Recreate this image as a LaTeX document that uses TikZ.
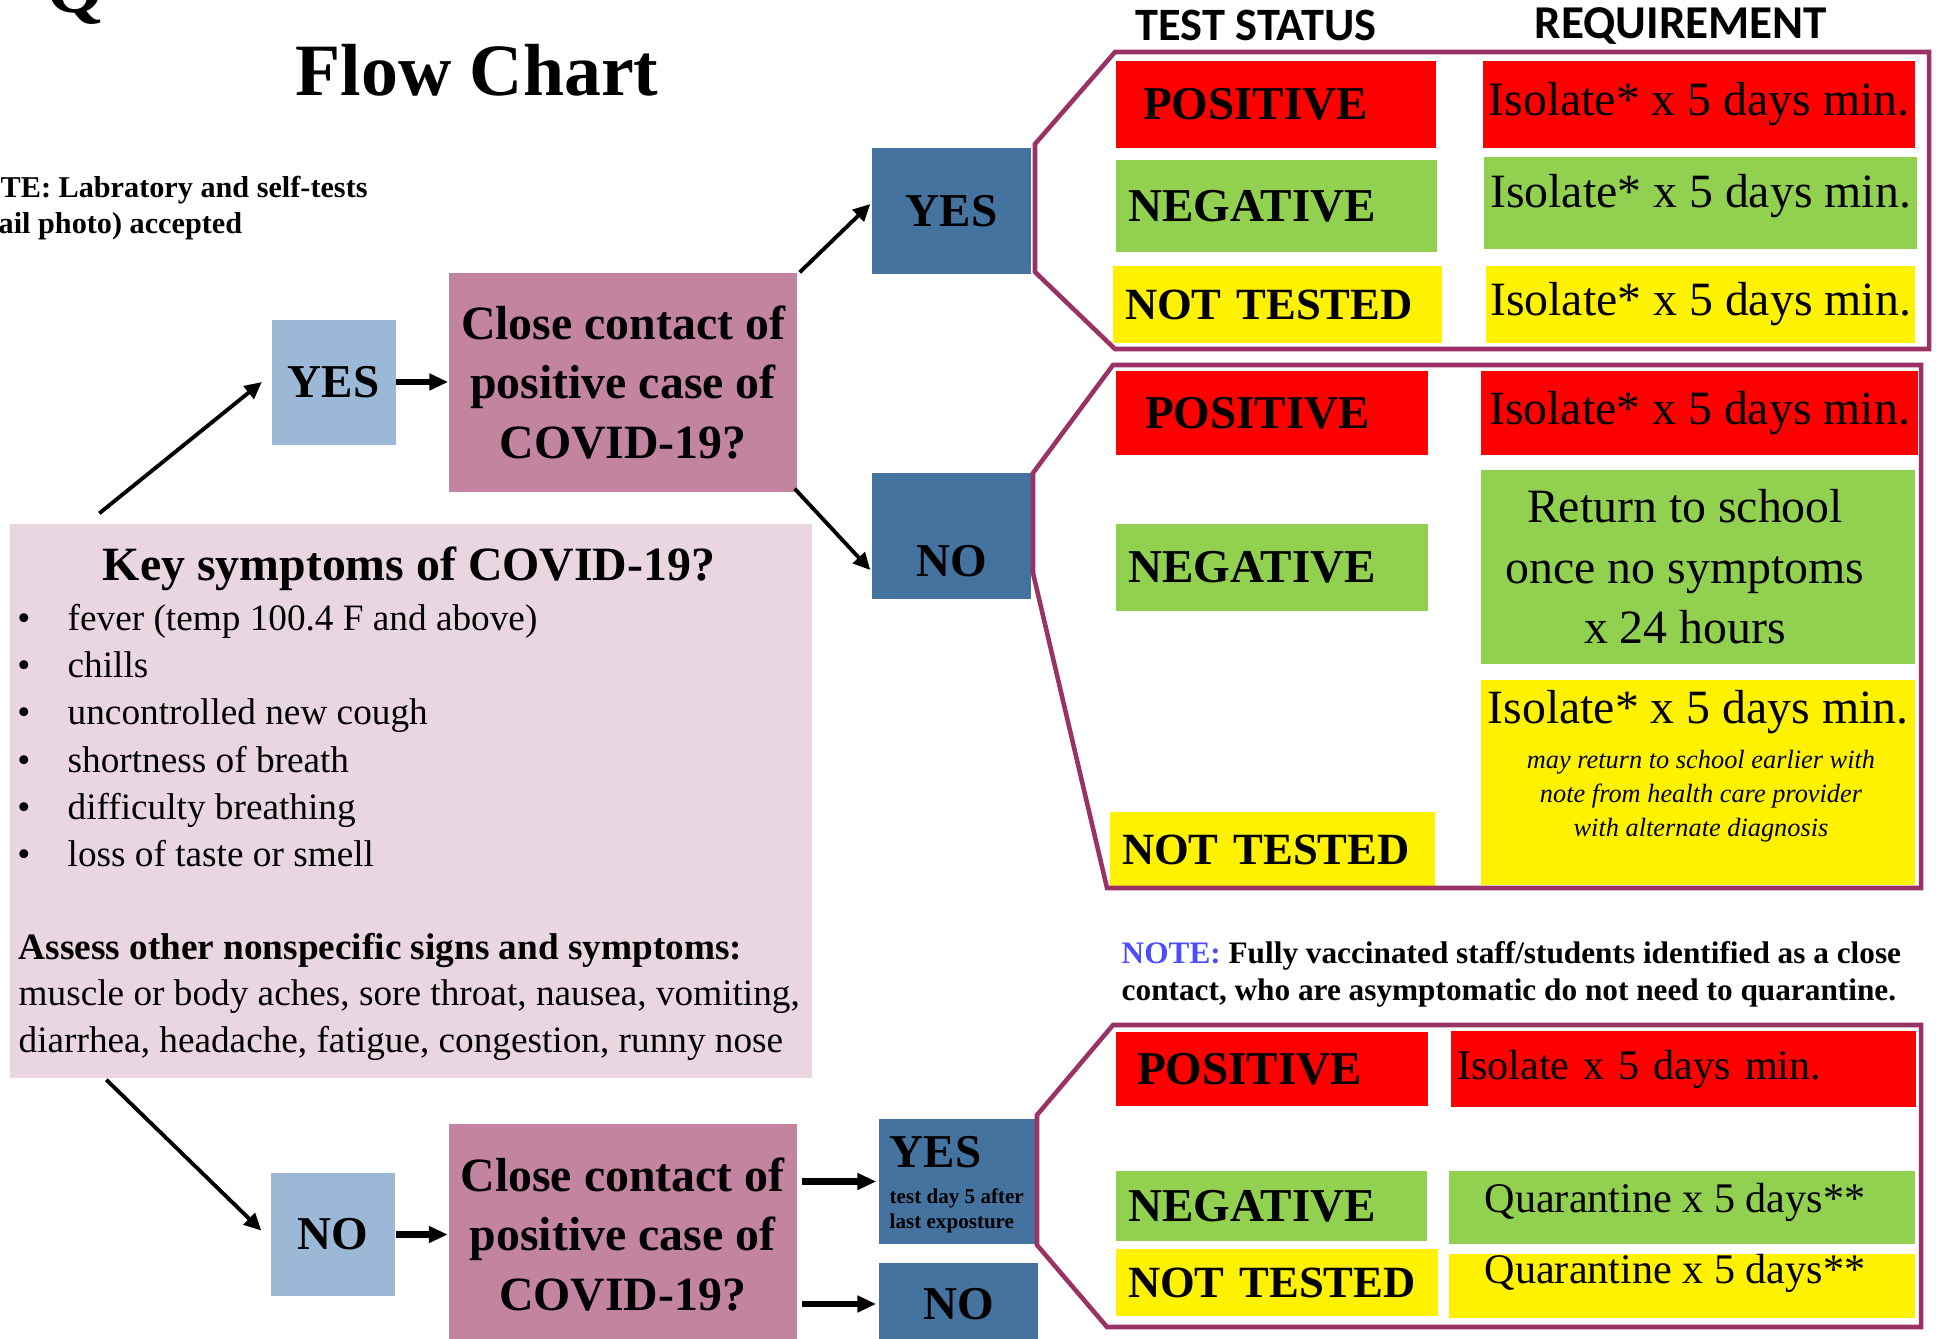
\documentclass[tikz,border=0pt]{standalone}
\usepackage{fontspec}
\setmainfont{Liberation Serif}
\newfontfamily\headfont{Carlito}
\usetikzlibrary{arrows.meta,positioning,calc}

\definecolor{paleblue}{RGB}{155,185,214}
\definecolor{deepblue}{RGB}{68,115,159}
\definecolor{mauve}{RGB}{195,132,160}
\definecolor{blush}{RGB}{233,214,225}
\definecolor{plum}{RGB}{153,51,102}
\definecolor{leaf}{RGB}{146,208,80}
\definecolor{noteblue}{RGB}{77,77,255}

\newcommand{\answerfont}{\fontsize{13.4}{16}\selectfont\bfseries}
\newcommand{\askfont}{\fontsize{13.6}{16.8}\selectfont\bfseries}
\newcommand{\needfont}{\fontsize{13.6}{17.2}\selectfont}
\newcommand{\smallneed}{\fontsize{12}{14}\selectfont}
\newcommand{\listfont}{\fontsize{10.6}{13}\selectfont}
\newcommand{\remarkfont}{\fontsize{8.9}{10}\selectfont\bfseries}
\newcommand{\untestedfont}{\fontsize{12.7}{15}\selectfont\bfseries}
\newcommand{\padright}[1]{\rule{#1}{0pt}}

\tikzset{
  every node/.style={inner sep=0pt},
  answer/.style={fill=paleblue, minimum width=12.4mm, minimum height=12.5mm, font=\answerfont},
  outcome/.style={fill=deepblue, minimum width=15.9mm, font=\answerfont},
  question/.style={fill=mauve, minimum width=34.8mm, align=center, font=\askfont},
  status/.style={fill=#1, align=left, inner xsep=1.2mm, font=\answerfont},
  need/.style={fill=#1, align=center, font=\needfont},
  plumframe/.style={draw=plum, line width=1.3pt},
  flow/.style={-{Triangle[length=1.7mm,width=1.6mm]}, line width=1.1pt},
  bigflow/.style={-{Triangle[length=1.9mm,width=1.6mm]}, line width=1.8pt},
}

\begin{document}
\begin{tikzpicture}[x=0.1mm, y=-0.1mm]
\useasboundingbox (0,0) rectangle (1936,1338);

% titles
\node[anchor=base west, font=\fontsize{21}{25}\selectfont\bfseries] (cutq) at (46,12) {Q};
\node[anchor=base, font=\fontsize{21}{25}\selectfont\bfseries] (title) at (477,95) {Flow Chart};
\node[anchor=base west, font=\fontsize{8.6}{10}\selectfont\bfseries] (labnote1) at (0,197) {TE: Labratory and self-tests};
\node[anchor=base west, font=\fontsize{8.6}{10}\selectfont\bfseries] (labnote2) at (-2,233) {ail photo) accepted};
\node[anchor=base, font=\headfont\fontsize{13.2}{15}\selectfont\bfseries] (hstatus) at (1256,41) {TEST STATUS};
\node[anchor=base, font=\headfont\fontsize{13.4}{15}\selectfont\bfseries] (hneed) at (1681,39) {REQUIREMENT};

% symptoms
\node[fill=blush, minimum width=80.2mm, minimum height=55.4mm] (key) at (411,801) {};
\node[anchor=base, font=\askfont] (keyhead) at (409,580) {Key symptoms of COVID-19?};
\foreach \sym [count=\i] in {fever (temp 100.4 F and above), chills, uncontrolled new cough, shortness of breath, difficulty breathing, loss of taste or smell}{
  \node[anchor=base, font=\listfont] (dot\i) at (24,{583+47.3*\i}) {\textbullet};
  \node[anchor=base west, font=\listfont] (sym\i) at (67,{583+47.3*\i}) {\sym};
}
\node[anchor=base west, font=\listfont\bfseries] (assess) at (18,959) {Assess other nonspecific signs and symptoms:};
\node[anchor=base west, font=\listfont] (other1) at (18,1005) {muscle or body aches, sore throat, nausea, vomiting,};
\node[anchor=base west, font=\listfont] (other2) at (18,1052) {diarrhea, headache, fatigue, congestion, runny nose};

% decisions
\node[answer] (yesL) at (333.5,382) {YES};
\node[question, minimum height=21.9mm] (close1) at (623,382.5) {Close contact of\\positive case of\\COVID-19?};
\node[outcome, minimum height=12.6mm] (yesD) at (951.5,211) {YES};
\node[outcome, minimum height=12.6mm, text height=8.2mm] (noD) at (951.5,536) {NO};
\node[answer, minimum height=12.3mm] (noL) at (333,1234.5) {NO};
\node[question, minimum height=22.1mm] (close2) at (622.5,1234.5) {Close contact of\\positive case of\\COVID-19?};
\node[outcome, minimum width=15.7mm, minimum height=12.5mm] (yesS) at (957.5,1181.5) {};
\node[anchor=base west, font=\answerfont] (yesSword) at (889,1167) {YES};
\node[anchor=north west, align=left, font=\fontsize{6}{7.1}\selectfont\bfseries] (yesSnote) at (889,1188) {test day 5 after\\last exposture};
\node[outcome, minimum height=8.2mm] (noS) at (958.5,1304) {NO};

% upper table
\node[status=red, text width=29.6mm, minimum height=8.7mm] (posA) at (1276,104.5) {\hspace*{1.5mm}POSITIVE};
\node[status=leaf, text width=29.7mm, minimum height=9.2mm] (negA) at (1276.5,206) {NEGATIVE};
\node[status=yellow, text width=30.5mm, minimum height=7.7mm, font=\untestedfont] (ntA) at (1277.5,304.5) {NOT TESTED};
\node[need=red, minimum width=43.2mm, minimum height=8.7mm] (isoA1) at (1699,104.5) {Isolate* x 5 days min.};
\node[need=leaf, minimum width=43.3mm, minimum height=9.2mm, text depth=2.4mm] (isoA2) at (1700.5,203) {Isolate* x 5 days min.};
\node[need=yellow, minimum width=42.9mm, minimum height=7.7mm] (isoA3) at (1700.5,304.5) {Isolate* x 5 days min.};

% middle table
\node[status=red, text width=28.8mm, minimum height=8.4mm] (posB) at (1272,413) {\hspace*{1.7mm}POSITIVE};
\node[status=leaf, text width=28.8mm, minimum height=8.7mm] (negB) at (1272,567.5) {NEGATIVE};
\node[status=yellow, text width=30.1mm, minimum height=7.5mm, font=\untestedfont] (ntB) at (1272.5,849.5) {NOT TESTED};
\node[need=red, minimum width=43.7mm, minimum height=8.4mm] (isoB1) at (1699.5,413) {Isolate* x 5 days min.};
\node[need=leaf, minimum width=43.4mm, minimum height=19.4mm] (retB) at (1698,567) {Return to school\padright{2.6mm}\\once no symptoms\padright{2.6mm}\\x 24 hours\padright{2.6mm}};
\node[need=yellow, minimum width=43.4mm, minimum height=20.5mm, text depth=15.2mm] (isoB3) at (1698,782.5) {Isolate* x 5 days min.};
\node[align=center, font=\fontsize{7.5}{9.6}\selectfont\itshape] (isoB3note) at (1701,796) {may return to school earlier with\\note from health care provider\\with alternate diagnosis};

% lower table
\node[anchor=base west, font=\remarkfont] (vaxnote1) at (1121,963) {\textcolor{noteblue}{NOTE:} Fully vaccinated staff/students identified as a close};
\node[anchor=base west, font=\remarkfont] (vaxnote2) at (1121,1000) {contact, who are asymptomatic do not need to quarantine.};
\node[status=red, text width=28.8mm, minimum height=7.4mm] (posC) at (1272,1069) {\hspace*{0.9mm}POSITIVE};
\node[status=leaf, text width=28.7mm, minimum height=7mm] (negC) at (1271.5,1206) {NEGATIVE};
\node[status=yellow, text width=29.8mm, minimum height=6.7mm, font=\untestedfont] (ntC) at (1277,1282.5) {NOT TESTED};
\node[need=red, align=left, text width=45.3mm, inner xsep=0.6mm, minimum height=7.6mm, font=\smallneed] (isoC) at (1683.5,1069) {Isolate x 5 days min.};
\node[need=leaf, minimum width=46.6mm, minimum height=7.3mm, font=\smallneed, text depth=1.9mm] (quaC1) at (1682,1207.5) {Quarantine x 5 days**\padright{1.4mm}};
\node[need=yellow, minimum width=46.6mm, minimum height=6mm, font=\smallneed, text depth=3.5mm] (quaC2) at (1682,1286) {Quarantine x 5 days**\padright{1.4mm}};

% brackets
\draw[plumframe] (1115,52) -- (1929,52) -- (1929,349) -- (1115,349) -- (1035,272) -- (1035,144) -- cycle;
\draw[plumframe] (1113,365) -- (1921,365) -- (1921,888) -- (1107,888) -- (1033,573) -- (1033,473) -- cycle;
\draw[plumframe] (1113,1025) -- (1921,1025) -- (1921,1327) -- (1107,1327) -- (1037,1245) -- (1037,1115) -- cycle;

% arrows
\draw[flow] ([shift={(90,-10)}]key.north west) -- ([xshift=-0.9mm]yesL.west);
\draw[bigflow] (yesL.east) -- (yesL.east -| close1.west);
\draw[flow] ([xshift=0.2mm]close1.north east) -- ([shift={(-1,-7)}]yesD.west);
\draw[flow] ([shift={(-3,-4)}]close1.south east) -- ([shift={(-1,34)}]noD.west);
\draw[flow] ([shift={(97,1)}]key.south west) -- ([shift={(-9,-4)}]noL.west);
\draw[bigflow] (noL.east) -- (noL.east -| close2.west);
\draw[bigflow, shorten <=0.5mm, shorten >=0.2mm] (close2.east |- yesS.west) -- (yesS.west);
\draw[bigflow, shorten <=0.5mm, shorten >=0.2mm] (close2.east |- noS.west) -- (noS.west);
\end{tikzpicture}
\end{document}
